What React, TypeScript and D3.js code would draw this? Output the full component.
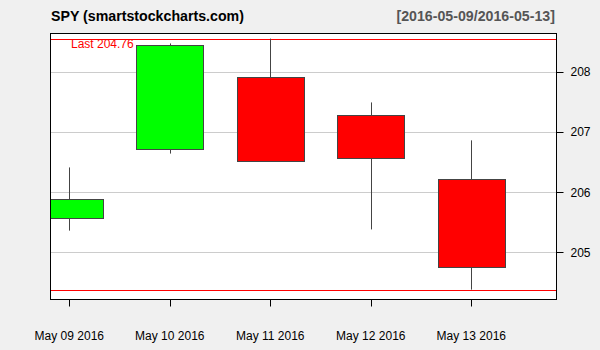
import React from "react";
import * as d3 from "d3";

const dates = ["May 09 2016", "May 10 2016", "May 11 2016", "May 12 2016", "May 13 2016"];
const opens = [205.57, 206.72, 207.91, 207.28, 206.21];
const highs = [206.41, 208.47, 208.55, 207.49, 206.86];
const lows = [205.36, 206.64, 206.5, 205.38, 204.38];
const closes = [205.89, 208.45, 206.51, 206.56, 204.76];
const yTicks = [205, 206, 207, 208];
const titleLeft = "SPY (smartstockcharts.com)";
const titleRight = "[2016-05-09/2016-05-13]";
const lastLabel = "Last 204.76";

const W = 600;
const H = 350;
const L = 50.5;
const R = 556.5;
const T = 33.5;
const B = 299.5;

export default function App() {
  const y = d3.scaleLinear().domain([204.216, 208.635]).range([B, T]);
  const x = d3.scaleLinear().domain([0, dates.length - 1]).range([69.3, 471.3]);
  const bodyW = 67;
  const hi = d3.max(highs) as number;
  const lo = d3.min(lows) as number;
  const font = "Liberation Sans, Arial, sans-serif";
  return (
    <svg width={W} height={H} style={{ position: "absolute", left: 0, top: 0, display: "block" }} fontFamily={font}>
      <defs>
        <clipPath id="plotclip">
          <rect x={L} y={T} width={R - L} height={B - T} />
        </clipPath>
      </defs>
      <rect x={0} y={0} width={W} height={H} fill="#f0f0f0" />
      <rect x={L} y={T} width={R - L} height={B - T} fill="#fff" />
      <text x={51} y={21} fontSize={14.2} fontWeight="bold" fill="#000">{titleLeft}</text>
      <text x={555} y={21} fontSize={14.2} fontWeight="bold" fill="#555" textAnchor="end">{titleRight}</text>
      <g clipPath="url(#plotclip)">
        {yTicks.map((t) => (
          <line key={t} x1={L} x2={R} y1={Math.round(y(t)) + 0.5} y2={Math.round(y(t)) + 0.5} stroke="#cccccc" strokeWidth={1} />
        ))}
        <line x1={L} x2={R} y1={Math.round(y(hi)) + 0.5} y2={Math.round(y(hi)) + 0.5} stroke="#ff0000" />
        <line x1={L} x2={R} y1={Math.round(y(lo)) + 0.5} y2={Math.round(y(lo)) + 0.5} stroke="#ff0000" />
        {dates.map((d, i) => {
          const cx = Math.round(x(i)) + 0.5;
          const up = closes[i] >= opens[i];
          const top = y(Math.max(opens[i], closes[i]));
          const bot = y(Math.min(opens[i], closes[i]));
          return (
            <g key={d}>
              <line x1={cx} x2={cx} y1={y(highs[i])} y2={y(lows[i])} stroke="#444" strokeWidth={1} />
              <rect
                x={Math.round(x(i) - bodyW / 2) + 0.5}
                y={Math.round(top) + 0.5}
                width={bodyW}
                height={Math.round(bot) - Math.round(top)}
                fill={up ? "#00ff00" : "#ff0000"}
                stroke="#444"
                strokeWidth={1}
              />
            </g>
          );
        })}
        <text x={71} y={48} fontSize={12} fill="#ff0000">{lastLabel}</text>
      </g>
      <rect x={L} y={T} width={R - L} height={B - T} fill="none" stroke="#000" strokeWidth={1} />
      {yTicks.map((t) => (
        <g key={t}>
          <line x1={R} x2={R + 7} y1={Math.round(y(t)) + 0.5} y2={Math.round(y(t)) + 0.5} stroke="#000" />
          <text x={570.5} y={y(t) + 4.5} fontSize={12} fill="#000">{t}</text>
        </g>
      ))}
      {dates.map((d, i) => (
        <g key={d}>
          <line x1={Math.round(x(i)) + 0.5} x2={Math.round(x(i)) + 0.5} y1={B} y2={B + 7} stroke="#000" />
          <text x={x(i)} y={339.5} fontSize={12} textAnchor="middle" fill="#000">{d}</text>
        </g>
      ))}
    </svg>
  );
}
